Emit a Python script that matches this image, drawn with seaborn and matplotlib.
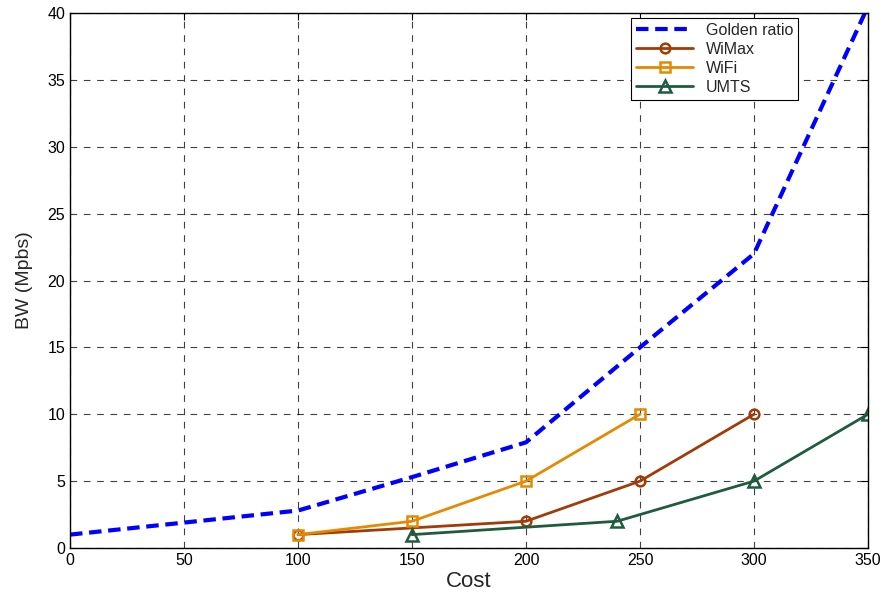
import matplotlib
matplotlib.use("Agg")
import matplotlib.pyplot as plt
import seaborn as sns
import pandas as pd

# data
golden_x = [0, 100, 150, 200, 250, 300, 350]
golden_y = [1.0, 2.8, 5.3, 7.9, 15.0, 22.0, 40.5]
wimax_x = [100, 200, 250, 300]
wimax_y = [1, 2, 5, 10]
wifi_x = [100, 150, 200, 250]
wifi_y = [1, 2, 5, 10]
umts_x = [150, 240, 300, 350]
umts_y = [1, 2, 5, 10]

sns.set_style("white")
plt.rcParams['font.family'] = ['Liberation Sans', 'DejaVu Sans']

fig = plt.figure(figsize=(8.84, 5.98), dpi=100)
ax = fig.add_axes([70/884, 50/598, 798/884, 535/598])

sns.lineplot(x=golden_x, y=golden_y, ax=ax, color='#0000FF', lw=3,
             dashes=False, label='Golden ratio')
ax.lines[-1].set_linestyle((0, (3, 1.6)))
sns.lineplot(x=wimax_x, y=wimax_y, ax=ax, color='#A03C08', lw=2,
             marker='o', markersize=7, markerfacecolor='none',
             markeredgecolor='#A03C08', markeredgewidth=1.8, label='WiMax')
sns.lineplot(x=wifi_x, y=wifi_y, ax=ax, color='#E58A00', lw=2,
             marker='s', markersize=7, markerfacecolor='none',
             markeredgecolor='#E58A00', markeredgewidth=1.8, label='WiFi')
sns.lineplot(x=umts_x, y=umts_y, ax=ax, color='#1F5C3E', lw=2,
             marker='^', markersize=8, markerfacecolor='none',
             markeredgecolor='#1F5C3E', markeredgewidth=1.8, label='UMTS')

ax.set_xlim(0, 350)
ax.set_ylim(0, 40)
ax.set_xticks(range(0, 351, 50))
ax.set_yticks(range(0, 41, 5))
ax.grid(True, color='black', linestyle=(0, (6, 6)), linewidth=0.8, alpha=0.75)
ax.tick_params(direction='in', top=True, right=True, length=5, labelsize=11.5,
               colors='black')
for s in ax.spines.values():
    s.set_color('black')
    s.set_linewidth(1)

ax.set_xlabel('Cost', fontsize=16, labelpad=2)
ax.set_ylabel('BW (Mpbs)', fontsize=14, labelpad=10)

leg = ax.legend(loc='upper left', bbox_to_anchor=(631/884, 1 - 18/598),
                bbox_transform=fig.transFigure, fontsize=11.5, fancybox=False,
                framealpha=1, edgecolor='black', borderaxespad=0,
                handlelength=3.6, labelspacing=0.25, borderpad=0.3)
leg.get_frame().set_linewidth(0.8)

fig.savefig('out.png', dpi=100)
